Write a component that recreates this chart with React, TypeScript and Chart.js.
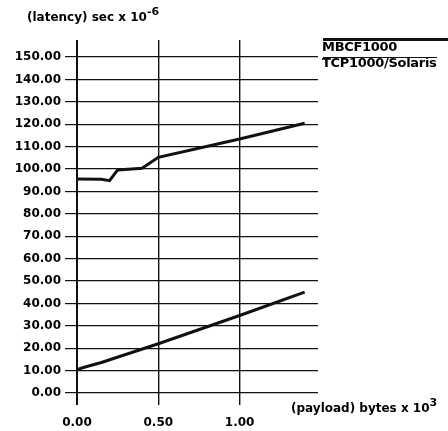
import React, { useEffect, useRef } from "react";
import { Chart, registerables } from "chart.js";

Chart.register(...registerables);

// ---- data ----
const seriesLabels = ["MBCF1000", "TCP1000/Solaris"];
const mbcfPayload = [0, 0.05, 0.15, 0.5, 1.0, 1.4];
const mbcfLatency = [10.5, 11.6, 13.6, 22.0, 34.6, 45.0];
const tcpPayload = [0, 0.15, 0.2, 0.25, 0.4, 0.5, 1.0, 1.4];
const tcpLatency = [95.5, 95.4, 94.8, 99.6, 100.3, 105.2, 113.4, 120.4];
const xTicks = [0, 0.5, 1.0];
const yTicks = [0, 10, 20, 30, 40, 50, 60, 70, 80, 90, 100, 110, 120, 130, 140, 150];
const yTitle = "(latency) sec x 10";
const yTitleExp = "-6";
const xTitle = "(payload) bytes x 10";
const xTitleExp = "3";

const FONT = "'DejaVu Sans', sans-serif";
const INK = "#111";

const zip = (xs: number[], ys: number[]) => xs.map((x, i) => ({ x, y: ys[i] }));

export default function App() {
  const canvasRef = useRef<HTMLCanvasElement | null>(null);

  useEffect(() => {
    const canvas = canvasRef.current;
    if (!canvas) return;
    const chart = new Chart(canvas, {
      type: "line",
      data: {
        datasets: [
          {
            label: seriesLabels[0],
            data: zip(mbcfPayload, mbcfLatency),
            borderColor: INK,
            borderWidth: 3,
            pointRadius: 0,
            tension: 0,
            fill: false,
          },
          {
            label: seriesLabels[1],
            data: zip(tcpPayload, tcpLatency),
            borderColor: INK,
            borderWidth: 3,
            pointRadius: 0,
            tension: 0,
            fill: false,
          },
        ],
      },
      options: {
        animation: false,
        responsive: false,
        devicePixelRatio: 1,
        layout: { padding: { top: 40, right: 130, left: 0, bottom: 0 } },
        plugins: {
          legend: { display: false },
          title: { display: false },
          tooltip: { enabled: false },
        },
        scales: {
          x: {
            type: "linear",
            min: 0,
            max: 1.482,
            afterBuildTicks: (s: any) => {
              s.ticks = xTicks.map((v) => ({ value: v }));
            },
            afterFit: (s: any) => {
              s.height = 38;
            },
            border: { display: false },
            grid: {
              color: INK,
              lineWidth: (ctx: any) => (ctx.index === 0 ? 2 : 1.4),
              tickLength: 12,
              drawTicks: true,
            },
            ticks: {
              color: "#000",
              font: { family: FONT, weight: "bold", size: 12 },
              padding: 11,
              maxRotation: 0,
              autoSkip: false,
              callback: (v: any) => Number(v).toFixed(2),
            },
          },
          y: {
            type: "linear",
            min: 0,
            max: 157.6,
            afterBuildTicks: (s: any) => {
              s.ticks = yTicks.map((v) => ({ value: v }));
            },
            afterFit: (s: any) => {
              s.width = 77;
            },
            border: { display: false },
            grid: {
              color: INK,
              lineWidth: 1.2,
              tickLength: 12,
              drawTicks: true,
            },
            ticks: {
              color: "#000",
              font: { family: FONT, weight: "bold", size: 12 },
              padding: 4,
              autoSkip: false,
              callback: (v: any) => Number(v).toFixed(2),
            },
          },
        },
      },
    });
    return () => chart.destroy();
  }, []);

  const textStyle: React.CSSProperties = {
    position: "absolute",
    fontFamily: FONT,
    fontWeight: "bold",
    fontSize: 12,
    lineHeight: "14px",
    whiteSpace: "nowrap",
    color: "#000",
  };
  const supStyle: React.CSSProperties = {
    fontSize: 11,
    position: "relative",
    top: -6,
  };
  const legendText: React.CSSProperties = {
    ...textStyle,
    fontSize: 13,
    letterSpacing: -0.3,
  };

  return (
    <div style={{ position: "absolute", left: 0, top: 0, width: 448, height: 431, background: "#fff" }}>
      <canvas ref={canvasRef} width={448} height={431} style={{ position: "absolute", left: 0, top: 0 }} />
      <div style={{ ...textStyle, left: 27, top: 10 }}>
        {yTitle}
        <span style={supStyle}>{yTitleExp}</span>
      </div>
      <div style={{ ...textStyle, left: 291, top: 401 }}>
        {xTitle}
        <span style={supStyle}>{xTitleExp}</span>
      </div>
      <div style={{ position: "absolute", left: 323, top: 38, width: 125, height: 2.5, background: INK }} />
      <div style={{ ...legendText, left: 322, top: 39.5 }}>{seriesLabels[0]}</div>
      <div style={{ position: "absolute", left: 323, top: 56.5, width: 114, height: 1.5, background: INK }} />
      <div style={{ ...legendText, left: 322, top: 56 }}>{seriesLabels[1]}</div>
    </div>
  );
}
